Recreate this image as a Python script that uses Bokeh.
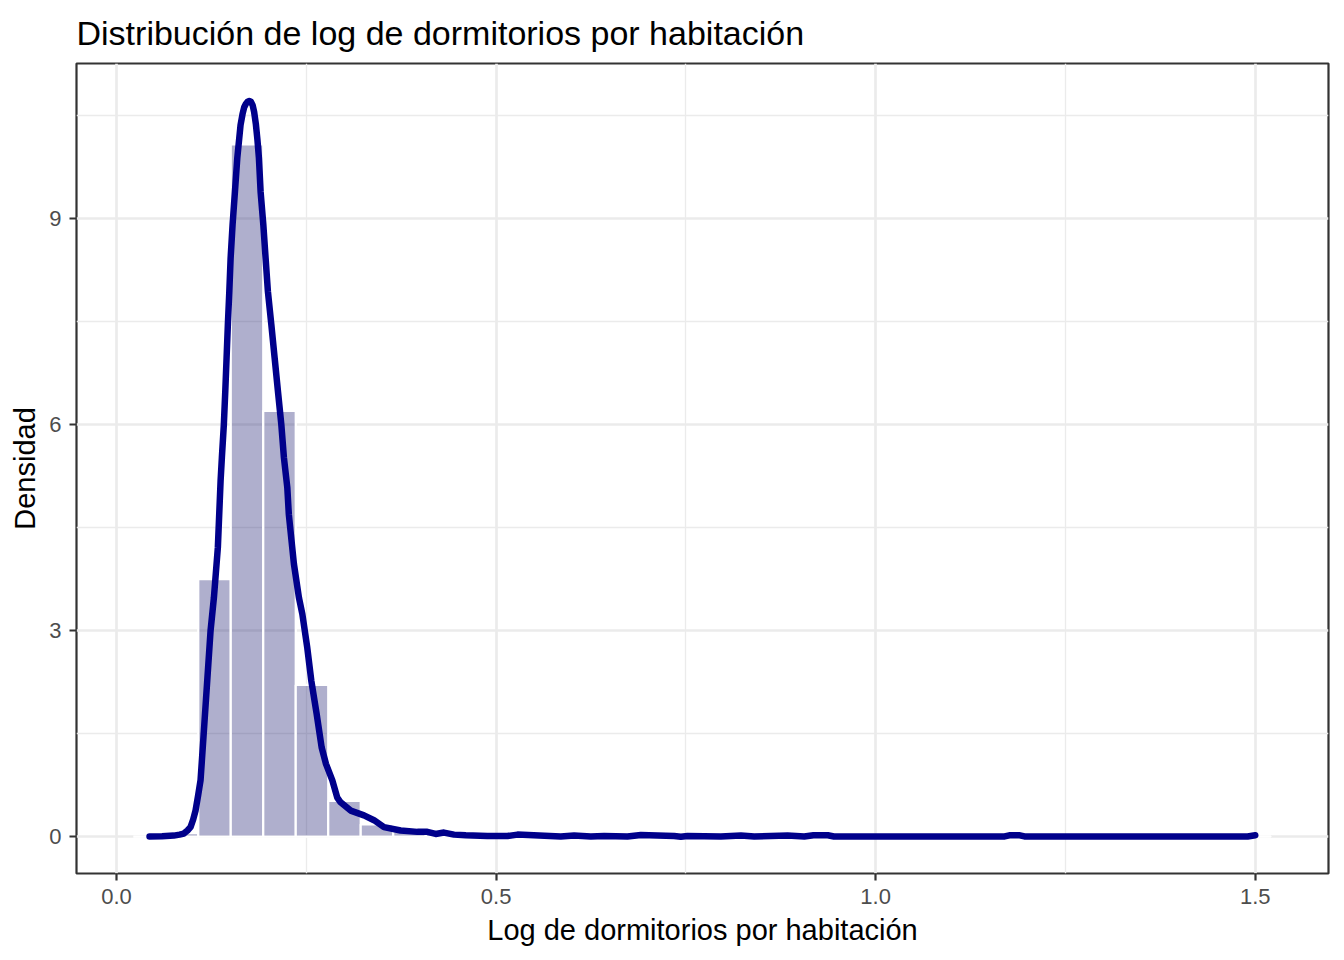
from bokeh.plotting import figure
from bokeh.models import Range1d, FixedTicker
from bokeh.embed import file_html
from bokeh.resources import INLINE

# ---- data ----
bin_start = 0.0221
bin_width = 0.0428
hist_density = [0.0, 0.05, 3.75, 10.08, 6.20, 2.21, 0.52, 0.18, 0.09, 0.05,
                0.03, 0.02, 0.02, 0.015, 0.01, 0.01, 0.01, 0.01, 0.01, 0.01,
                0.01, 0.008, 0.008, 0.008, 0.008, 0.008, 0.008, 0.008, 0.008, 0.008,
                0.005, 0.005, 0.005, 0.005, 0.005]

dens_x = [0.0435, 0.0600, 0.0755, 0.0830, 0.0887, 0.0935, 0.0975, 0.1010, 0.1041, 0.1075,
          0.1107, 0.1151, 0.1195, 0.1239, 0.1283, 0.1335, 0.1371, 0.1388, 0.1414, 0.1433,
          0.1450, 0.1467, 0.1486, 0.1503, 0.1529, 0.1560, 0.1591, 0.1634, 0.1660, 0.1682,
          0.1705, 0.1728, 0.1749, 0.1770, 0.1793, 0.1813, 0.1835, 0.1856, 0.1876, 0.1898,
          0.1934, 0.1964, 0.1994, 0.2039, 0.2083, 0.2126, 0.2171, 0.2205, 0.2250, 0.2270,
          0.2337, 0.2403, 0.2448, 0.2513, 0.2566, 0.2636, 0.2702, 0.2759, 0.2843, 0.2908,
          0.2952, 0.3084, 0.3260, 0.3392, 0.3523, 0.3743, 0.3963, 0.4094, 0.4204, 0.4313,
          0.4446, 0.4600, 0.4885, 0.5150, 0.5282, 0.5852, 0.6028, 0.6248, 0.6423, 0.6730,
          0.6907, 0.7346, 0.7434, 0.7522, 0.7961, 0.8225, 0.8400, 0.8840, 0.9060, 0.9180,
          0.9370, 0.9450, 1.1700, 1.1760, 1.1900, 1.1960, 1.4900, 1.5000]
dens_y = [0.003, 0.005, 0.016, 0.03, 0.045, 0.09, 0.14, 0.25, 0.38, 0.60,
          0.82, 1.54, 2.27, 3.00, 3.48, 4.21, 5.18, 5.52, 6.00, 6.49,
          6.97, 7.46, 7.94, 8.42, 8.91, 9.39, 9.88, 10.36, 10.52, 10.62,
          10.67, 10.70, 10.71, 10.70, 10.65, 10.55, 10.38, 10.15, 9.88, 9.39,
          8.91, 8.42, 7.94, 7.46, 6.97, 6.49, 6.00, 5.52, 5.08, 4.69,
          3.97, 3.48, 3.24, 2.75, 2.27, 1.79, 1.30, 1.06, 0.82, 0.57,
          0.50, 0.38, 0.31, 0.24, 0.14, 0.09, 0.07, 0.07, 0.04, 0.06,
          0.03, 0.02, 0.01, 0.01, 0.03, 0.003, 0.016, 0.003, 0.01, 0.003,
          0.025, 0.01, 0.0, 0.01, 0.003, 0.016, 0.003, 0.016, 0.003, 0.02,
          0.02, 0.003, 0.003, 0.02, 0.02, 0.003, 0.003, 0.02]

x_ticks = [0.0, 0.5, 1.0, 1.5]
x_tick_labels = ["0.0", "0.5", "1.0", "1.5"]
x_minor = [0.25, 0.75, 1.25]
y_ticks = [0, 3, 6, 9]
y_tick_labels = ["0", "3", "6", "9"]
y_minor = [1.5, 4.5, 7.5, 10.5]

title_text = "Distribución de log de dormitorios por habitación"
x_label = "Log de dormitorios por habitación"
y_label = "Densidad"

lefts = [bin_start + i * bin_width for i in range(len(hist_density))]
rights = [l + bin_width for l in lefts]

FONT = "Liberation Sans"

p = figure(width=1344, height=960,
           x_range=Range1d(-0.0527, 1.5965), y_range=Range1d(-0.536, 11.256),
           output_backend="svg", toolbar_location=None,
           min_border_left=76, min_border_right=16, min_border_top=62, min_border_bottom=87)

p.title.text = title_text
p.title.text_font = FONT
p.title.text_font_size = "34px"
p.title.text_font_style = "normal"
p.title.text_color = "black"
p.title.align = "left"
p.title.offset = 0
p.title.standoff = 23
p.title.text_line_height = 0.9

p.background_fill_color = "white"
p.border_fill_color = "white"
p.outline_line_color = "#333333"
p.outline_line_width = 2.2

# grid
p.xaxis.ticker = FixedTicker(ticks=x_ticks, minor_ticks=x_minor)
p.yaxis.ticker = FixedTicker(ticks=y_ticks, minor_ticks=y_minor)
for g in (p.xgrid, p.ygrid):
    g.grid_line_color = "#EBEBEB"
    g.grid_line_width = 2.7
    g.minor_grid_line_color = "#EBEBEB"
    g.minor_grid_line_width = 1.35

p.xaxis.major_label_overrides = dict(zip(x_ticks, x_tick_labels))
p.yaxis.major_label_overrides = dict(zip(y_ticks, y_tick_labels))

for ax in (p.xaxis, p.yaxis):
    ax.axis_line_color = None
    ax.major_tick_line_color = "#333333"
    ax.major_tick_line_width = 2.2
    ax.major_tick_out = 7
    ax.major_tick_in = 0
    ax.minor_tick_line_color = None
    ax.major_label_text_font = FONT
    ax.major_label_text_font_size = "22px"
    ax.major_label_text_color = "#4D4D4D"
    ax.axis_label_text_font = FONT
    ax.axis_label_text_font_size = "29px"
    ax.axis_label_text_font_style = "normal"
    ax.axis_label_text_color = "black"

p.xaxis.axis_label = x_label
p.yaxis.axis_label = y_label
p.xaxis.major_label_standoff = 8
p.yaxis.major_label_standoff = 8
p.xaxis.axis_label_standoff = 7
p.yaxis.axis_label_standoff = 5

p.quad(left=lefts, right=rights, bottom=0, top=hist_density,
       fill_color="#191970", fill_alpha=0.35, line_color="white", line_width=2.2)

p.line(dens_x, dens_y, line_color="#00008B", line_width=6.5, line_join="round", line_cap="round")

open("out.html", "w").write(file_html(p, INLINE))
